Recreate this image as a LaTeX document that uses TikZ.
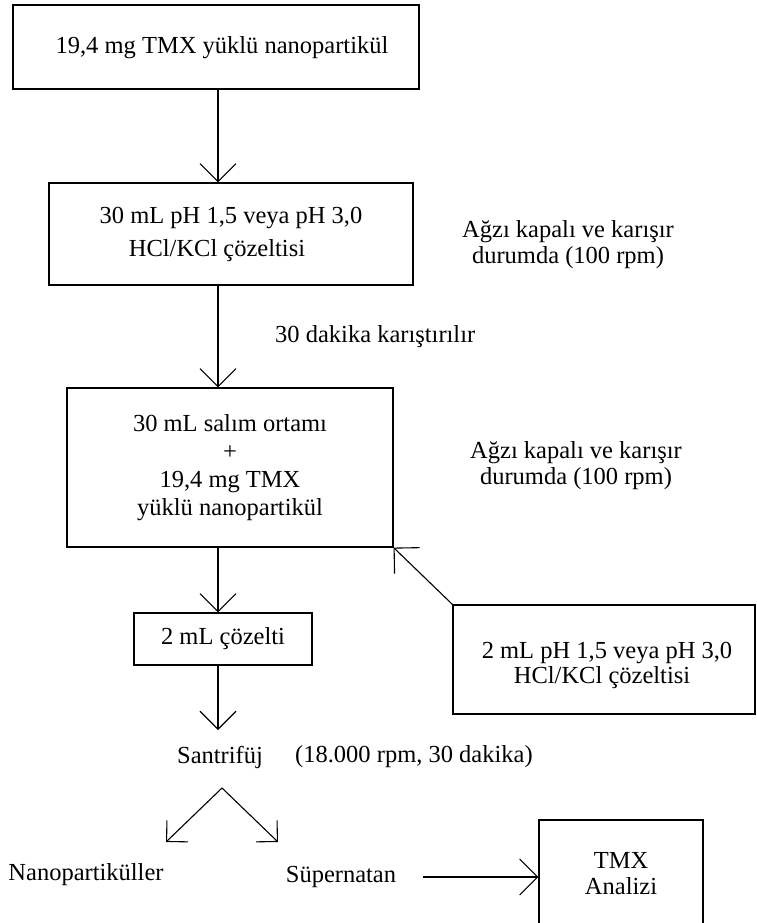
\documentclass[tikz,border=0pt]{standalone}
\usepackage{fontspec}
\setmainfont{Liberation Serif}
\usetikzlibrary{arrows.meta,calc}
\begin{document}
\begin{tikzpicture}[x=1pt,y=-1pt,
  every node/.style={font=\fontsize{24.5}{28}\selectfont, inner sep=0pt, align=center},
  box/.style={draw, line width=1.1pt},
  arr/.style={line width=1.1pt, -{Straight Barb[length=18pt,width=36pt,line width=1.1pt]}},
  sarr/.style={line width=1.1pt, -{Straight Barb[length=15pt,width=30pt,line width=1.1pt]}}]
\useasboundingbox (0,0) rectangle (757,923);
\fill[white] (0,0) rectangle (757,923);

% boxes
\node[box, minimum width=406pt, minimum height=84pt] (b1) at (216,47) {};
\node (b1t) at (222,48) {19,4 mg TMX yüklü nanopartikül};
\node[box, minimum width=364pt, minimum height=102pt] (b2) at (231,234)
  {30 mL pH 1,5 veya pH 3,0\\[5pt]HCl/KCl çözeltisi\hspace*{28pt}};
\node[box, minimum width=326pt, minimum height=159pt] (b3) at (230,467.5)
  {30 mL salım ortamı\\+\\19,4 mg TMX\\yüklü nanopartikül};
\node[box, minimum width=178pt, minimum height=52pt] (b4) at (223,639) {2 mL çözelti};
\node[box, minimum width=302pt, minimum height=109pt] (b5) at (604,659.5) {};
\node (b5t) at (607,665)
  {2 mL pH 1,5 veya pH 3,0\\[-3pt]HCl/KCl çözeltisi\hspace*{10pt}};
\node[box, minimum width=164pt, minimum height=114pt] (tmx) at (621,877) {};
\node (tmxt) at (621,874) {TMX\\[-2pt]Analizi};

% free texts
\node (r1) at (568,245) {Ağzı kapalı ve karışır\\[-2pt]durumda (100 rpm)};
\node (r2) at (576,466) {Ağzı kapalı ve karışır\\[-2pt]durumda (100 rpm)};
\node[anchor=west] (mix) at (275,337) {30 dakika karıştırılır};
\node (santr) at (220,757) {Santrifüj};
\node[anchor=west] (cond) at (295,757) {(18.000 rpm, 30 dakika)};
\node (nano) at (86,875) {Nanopartiküller};
\node (sup) at (341,877) {Süpernatan};

% coordinates
\coordinate (col) at (218,0);
\coordinate (stip) at (218,730);
\coordinate (apex) at (222,788);
\coordinate (tl) at (166,842);
\coordinate (tr) at (278,842);
\coordinate (supstart) at (423,877);

% connectors
\draw[arr] (b1.south -| col) -- (b2.north -| col);
\draw[arr] (b2.south -| col) -- (b3.north -| col);
\draw[arr] (b3.south -| col) -- (b4.north -| col);
\draw[arr] (b4.south -| col) -- (stip);
\draw[arr] (b5.north west) -- (b3.south east);
\draw[sarr] (apex) -- (tl);
\draw[sarr] (apex) -- (tr);
\draw[arr] (supstart) -- (tmx.west);
\end{tikzpicture}
\end{document}
